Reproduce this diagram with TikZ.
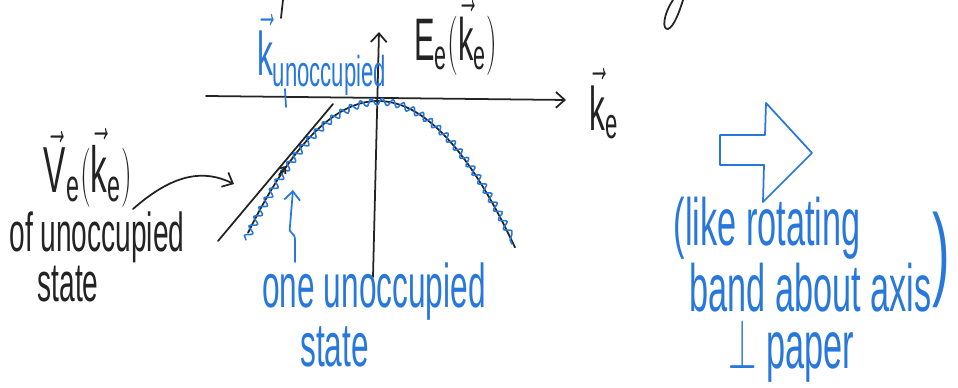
\documentclass[tikz,border=0pt]{standalone}
\usepackage{fontspec}
\setmainfont{Liberation Sans}
\usetikzlibrary{arrows.meta,decorations.pathmorphing}
\definecolor{ink}{RGB}{35,35,35}
\definecolor{pen}{RGB}{40,120,220}
\newcommand{\kv}{\vec{\mathrm{k}}}

\begin{document}
\begin{tikzpicture}[x=0.2mm,y=-0.2mm,>={Straight Barb[length=5pt,width=9pt]},
  line width=1pt,line cap=round,line join=round,
  hand/.style={inner sep=0pt,yscale=1.95,font=\fontsize{16}{12}\selectfont},
  big/.style={font=\fontsize{18}{12}\selectfont}]
\useasboundingbox (0,0) rectangle (958,388);
% cut-off strokes at the top edge
\draw[ink] (283,0) -- (281,18);
\draw[ink] (673,0) .. controls (663,15) and (662,30) .. (668,29)
  .. controls (674,27) and (680,10) .. (683,0);
% axes
\coordinate (xl) at (206,96);
\coordinate (xr) at (566,100);
\coordinate (yb) at (373,277);
\coordinate (yt) at (379,32);
\draw[ink,->] (xl) -- (xr);
\draw[ink,->] (yb) -- (yt);
\node[hand,ink,font=\fontsize{17.5}{12}\selectfont] (elab) at (456,38) {$\mathrm{E}_{\mathrm{e}}(\kv_{\mathrm{e}})$};
\node[hand,big,ink] (klab) at (604,104) {$\kv_{\mathrm{e}}$};
% band and tangent
\draw[ink] plot[domain=248:515,samples=60] (\x,{101+0.78*((\x-378)/10)^2});
\draw[pen,line width=0.9pt,decorate,decoration={snake,amplitude=2pt,segment length=6pt}]
  plot[domain=246:512,samples=120] (\x,{104+0.78*((\x-378)/10)^2});
\coordinate (tl) at (218,241);
\coordinate (tr) at (333,104);
\draw[ink] (tl) -- (tr);
\coordinate (hole) at (286,166);
\draw[ink,-{Straight Barb[length=3pt,width=5pt]}] (279,175) -- (hole);
% unoccupied k
\draw[pen] (285,89) -- (286,107);
\node[hand,big,pen] (kunocc) at (322,55) {$\kv_{\mathrm{unoccupied}}$};
% velocity label
\node[hand,ink,font=\fontsize{19}{12}\selectfont] (vlab) at (88,168)
  {$\vec{\mathrm{V}}_{\mathrm{e}}(\kv_{\mathrm{e}})$};
\node[hand,ink,align=left,font=\fontsize{16}{12.6}\selectfont] (ofunocc) at (97,257)
  {of unoccupied\\\hspace{1.0em}state};
\coordinate (tgt) at (234,184);
\draw[ink,->] (vlab.south east) .. controls (175,172) and (205,170) .. (tgt);
% one unoccupied state
\node[hand,pen,align=left,font=\fontsize{18}{17.4}\selectfont] (onestate) at (374,315)
  {one unoccupied\\\hspace{1.2em}state};
\coordinate (sq) at (295,262);
\coordinate (tip) at (293,190);
\draw[pen,->] (sq) -- (295,240) .. controls (295,231) and (288,235) .. (290,226) -- (tip);
% right side
\draw[pen] (720,135) -- (765,135) -- (766,103) -- (812,153) -- (763,202) -- (764,165)
  -- (720,165) -- cycle;
\node[hand,pen,align=left,anchor=west,font=\fontsize{19.5}{16.8}\selectfont] (rotnote) at (673,290)
  {(like rotating\\\hspace{0.45em}band about axis\\\hspace{1.6em}$\perp$ paper};
\node[hand,pen,font=\fontsize{30}{30}\selectfont] (rparen) at (941,260) {)};
\end{tikzpicture}
\end{document}
